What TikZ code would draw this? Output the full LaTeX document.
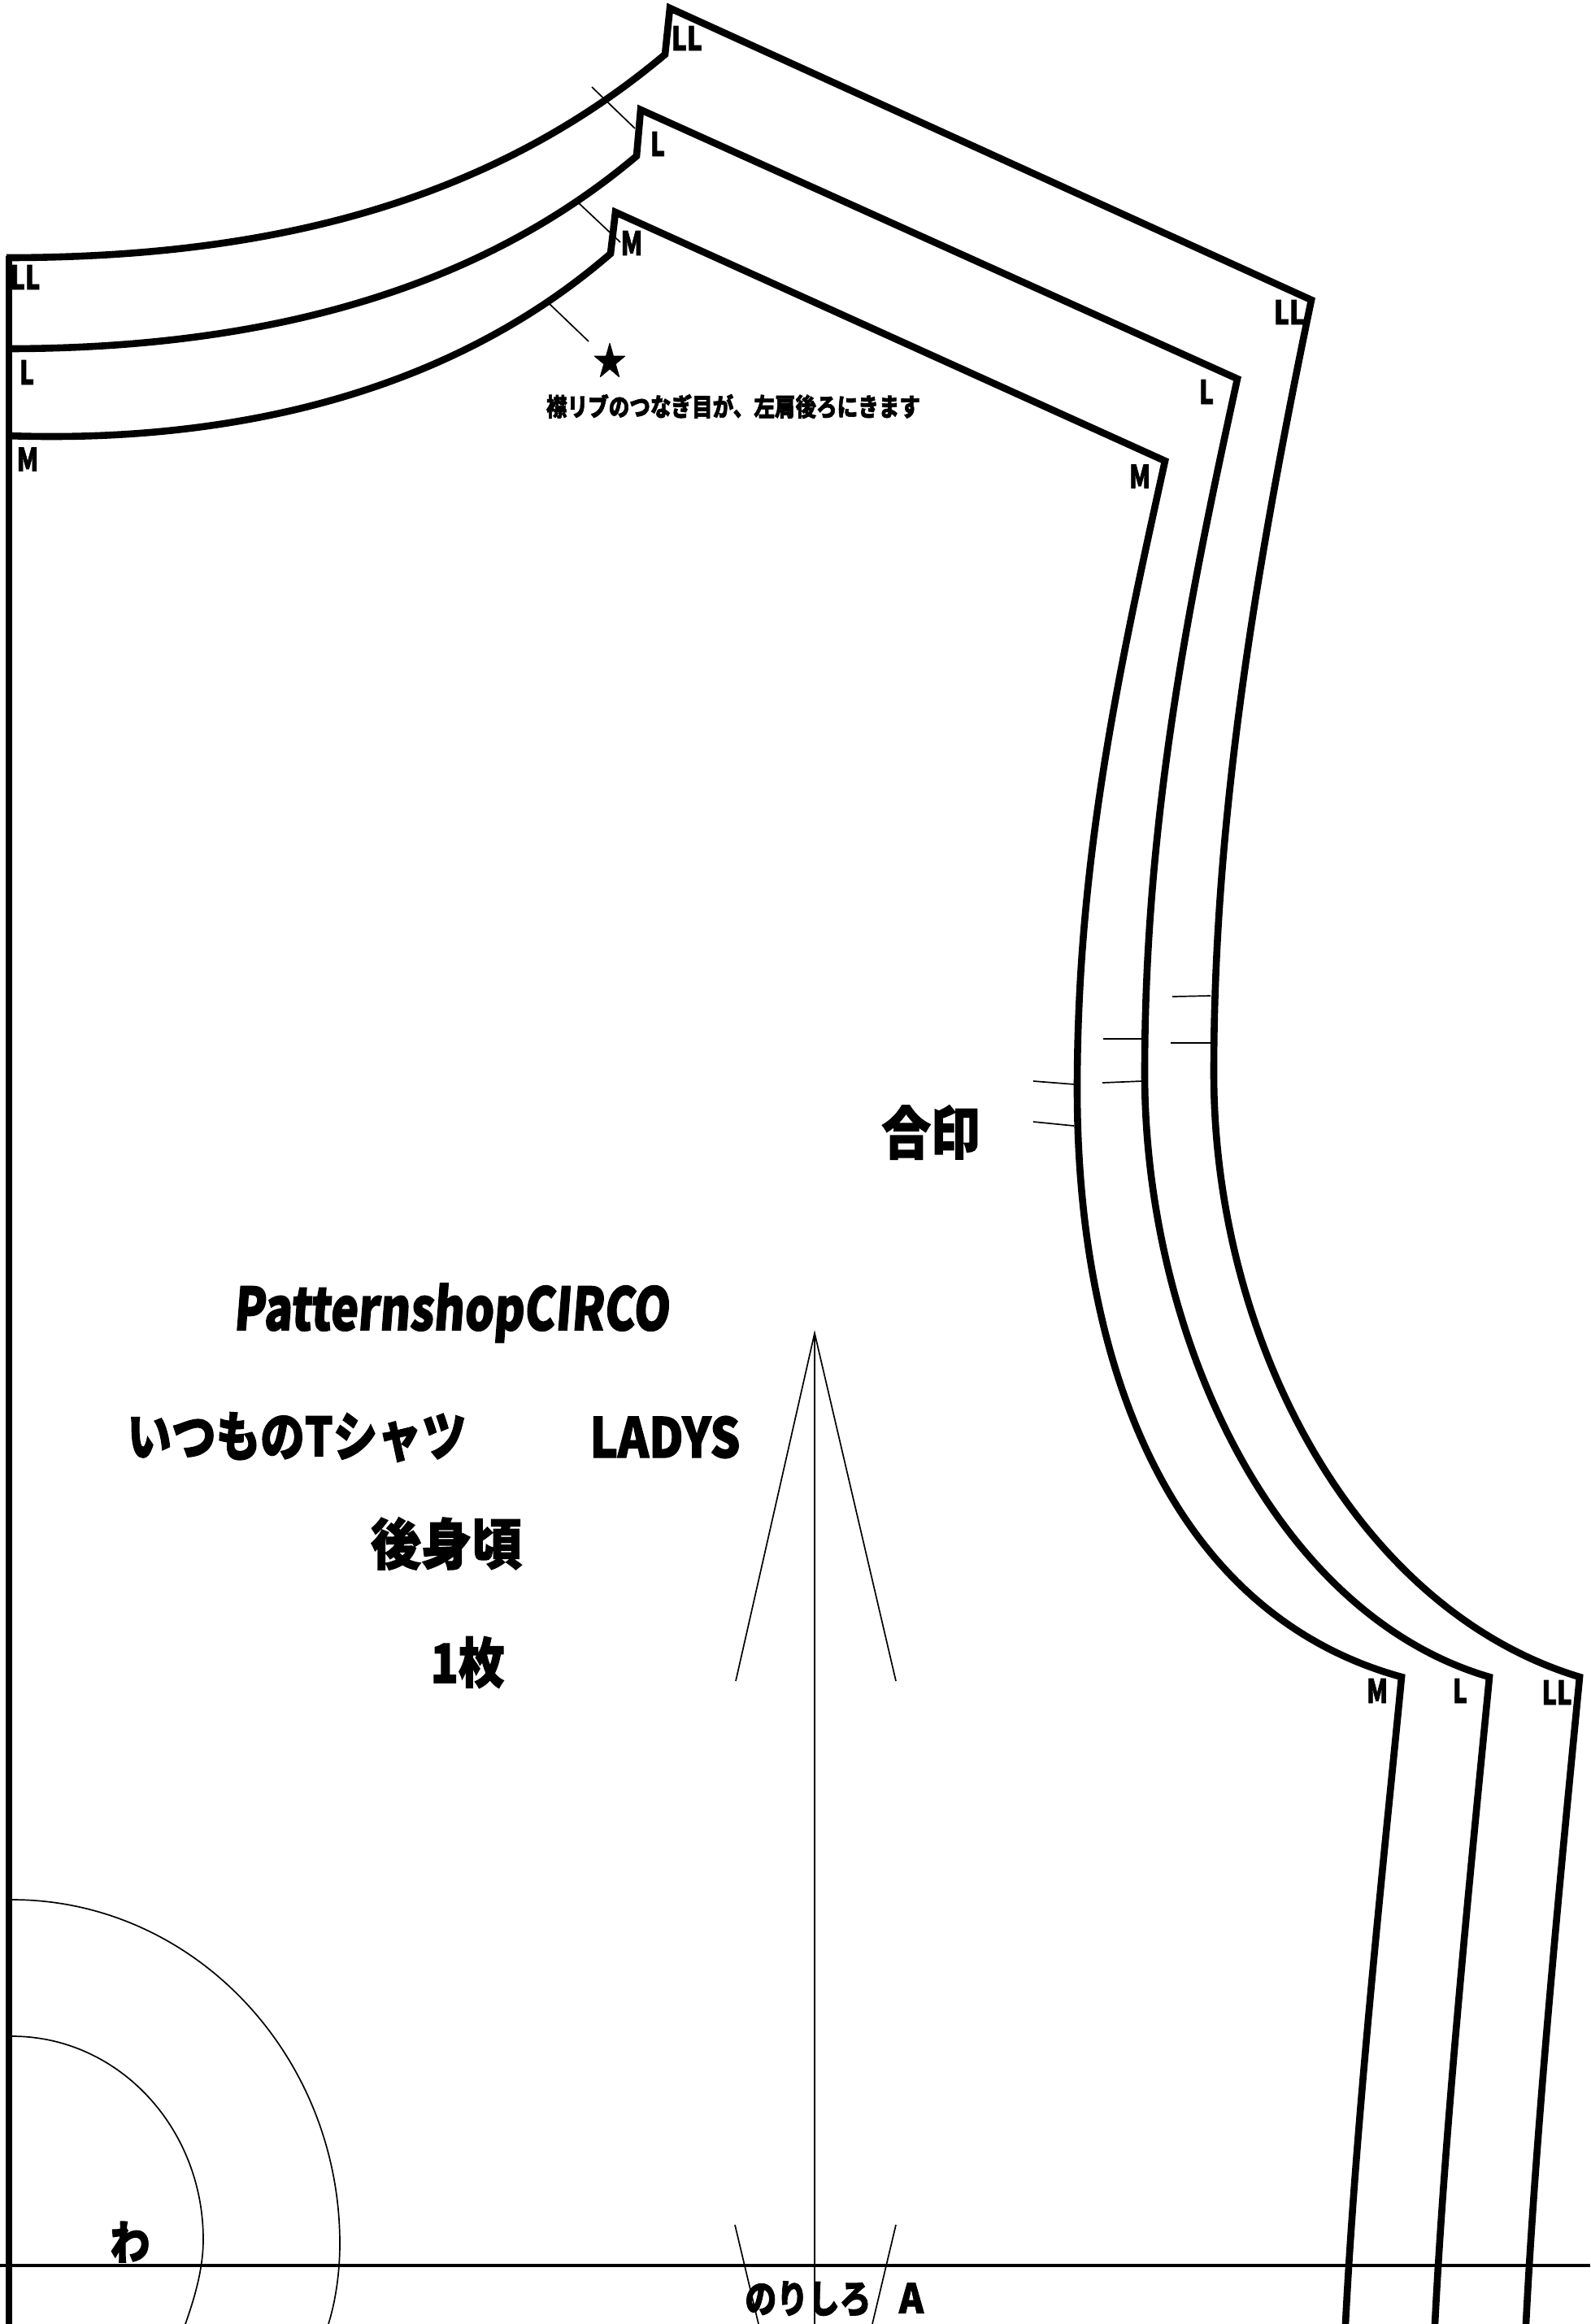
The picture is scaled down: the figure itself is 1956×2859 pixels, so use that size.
\documentclass[tikz,border=0pt]{standalone}
\usepackage{fontspec}
\usepackage{graphicx}
\newfontfamily\cjk[FakeBold=2]{Noto Sans CJK JP}
\newfontfamily\cjks[FakeBold=2,FakeSlant=0.1]{Noto Sans CJK JP}
% fitted text: width and height in reference pixels
\newdimen\fitw
\newdimen\fith
\newcommand{\fit}[3]{\fitw=#1pt\fitw=0.5\fitw\fith=#2pt\fith=0.5\fith\resizebox{\fitw}{\fith}{\cjk\bfseries #3}}
\newcommand{\fits}[3]{\fitw=#1pt\fitw=0.5\fitw\fith=#2pt\fith=0.5\fith\resizebox{\fitw}{\fith}{\cjks\bfseries #3}}
\tikzset{
  cut/.style={line width=4.3pt,line join=miter,miter limit=3,draw=black},
  fine/.style={line width=0.85pt,draw=black},
  foldline/.style={line width=1.6pt,draw=black},
  lab/.style={inner sep=0pt,outer sep=0pt,text=black,anchor=center},
}
\begin{document}
\begin{tikzpicture}[x=0.5pt,y=-0.5pt]
\useasboundingbox (0,0) rectangle (1956,2859);
\clip (0,0) rectangle (1956,2859);
\fill[white] (0,0) rectangle (1956,2859);

% centre fold
\draw[cut,line width=4.4pt] (11,315) -- (11,2859);

% LL outline
\draw[cut] (8,317) .. controls (330,317) and (600,250) .. (818,67)
  -- (824,10) -- (1613,369)
  .. controls (1540,720) and (1493,1020) .. (1493,1320)
  .. controls (1493,1650) and (1668,1980) .. (1943,2063)
  .. controls (1925,2250) and (1890,2600) .. (1877,2859);
% L outline
\draw[cut] (8,429) .. controls (330,429) and (590,355) .. (783,192)
  -- (788,135) -- (1522,466)
  .. controls (1462,740) and (1408,1010) .. (1408,1320)
  .. controls (1408,1640) and (1565,1985) .. (1832,2063)
  .. controls (1814,2250) and (1778,2600) .. (1765,2859);
% M outline
\draw[cut] (8,536) .. controls (260,545) and (540,495) .. (751,312)
  -- (757,261) -- (1433,567)
  .. controls (1375,830) and (1325,1060) .. (1325,1340)
  .. controls (1325,1680) and (1440,1985) .. (1724,2063)
  .. controls (1706,2250) and (1668,2600) .. (1655,2859);

% neck notches
\draw[fine] (728,107) -- (781,158);
\draw[fine] (711,249) -- (763,298);
\draw[fine] (675,373) -- (724,420);

% armhole notches
\draw[fine] (1442,1226) -- (1489,1225);
\draw[fine] (1440,1283) -- (1489,1283);
\draw[fine] (1357,1278) -- (1407,1278);
\draw[fine] (1356,1332) -- (1405,1330);
\draw[fine] (1271,1330) -- (1322,1334);
\draw[fine] (1271,1380) -- (1321,1385);

% fold line and grain arrow
\draw[foldline] (0,2787) -- (1956,2787);
\draw[fine] (1002,1640) -- (1002,2859);
\draw[fine] (905,2068) -- (1002,1640) -- (1102,2068);
\draw[fine] (904,2737) -- (933,2859);
\draw[fine] (1102,2737) -- (1073,2859);

% fold arcs
\draw[fine] (15,2337) .. controls (237,2337) and (418,2527) .. (418,2760)
  .. controls (418,2795) and (413,2830) .. (404,2859);
\draw[fine] (15,2505) .. controls (145,2505) and (250,2617) .. (250,2755)
  .. controls (250,2790) and (240,2825) .. (228,2859);

% size labels
\node[lab] (ll1) at (845,47) {\fit{38}{30}{LL}};
\node[lab] (l1) at (809,177) {\fit{18}{30}{L}};
\node[lab] (m1) at (777,299) {\fit{27}{30}{M}};
\node[lab] (ll2) at (31,341) {\fit{37}{30}{LL}};
\node[lab] (l2) at (33,458) {\fit{18}{30}{L}};
\node[lab] (m2) at (34,565) {\fit{27}{29}{M}};
\node[lab] (ll3) at (1586,384) {\fit{38}{30}{LL}};
\node[lab] (l3) at (1484,482) {\fit{18}{30}{L}};
\node[lab] (m3) at (1402,586) {\fit{26}{29}{M}};
\node[lab] (ll4) at (1915,2082) {\fit{37}{30}{LL}};
\node[lab] (l4) at (1796,2080) {\fit{18}{30}{L}};
\node[lab] (m4) at (1694,2080) {\fit{26}{30}{M}};

% texts
\node[lab] (star) at (750,443) {\fit{40}{38}{★}};
\node[lab] (note) at (902,500) {\fit{460}{27}{襟リブのつなぎ目が、左肩後ろにきます}};
\node[lab] (aijirushi) at (1145,1393) {\fit{121}{60}{合印}};
\node[lab] (shop) at (555,1615) {\fits{536}{58}{PatternshopCIRCO}};
\node[lab] (title) at (365,1768) {\fit{417}{54}{いつものTシャツ}};
\node[lab] (ladys) at (818,1768) {\fit{185}{51}{LADYS}};
\node[lab] (piece) at (549,1899) {\fit{186}{58}{後身頃}};
\node[lab] (qty) at (575,2045) {\fit{91}{57}{1枚}};
\node[lab] (wa) at (160,2758) {\fit{49}{47}{わ}};
\node[lab] (nori) at (994,2828) {\fit{155}{39}{のりしろ}};
\node[lab] (a) at (1121,2827) {\fit{30}{37}{A}};
\end{tikzpicture}
\end{document}
